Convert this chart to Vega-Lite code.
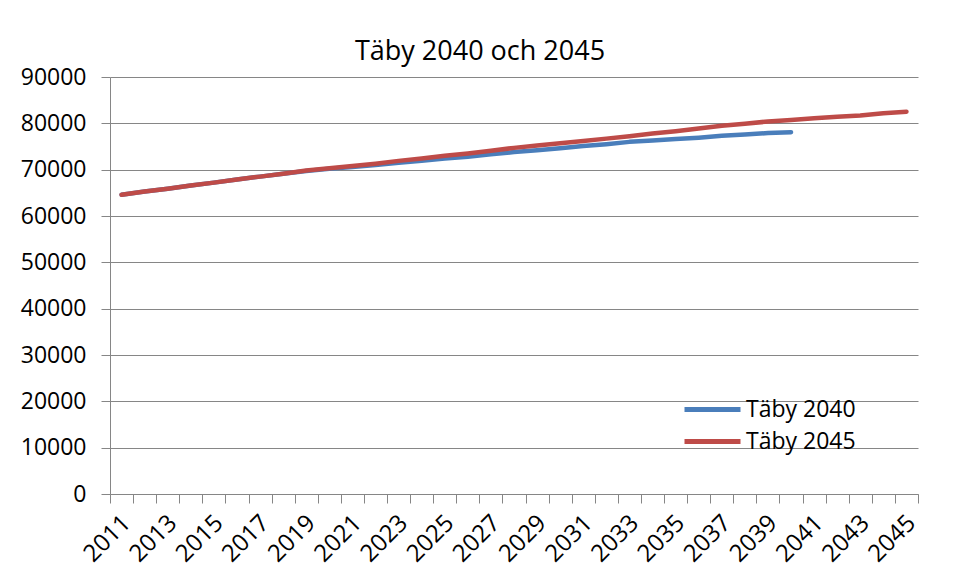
{
  "$schema": "https://vega.github.io/schema/vega-lite/v6.json",
  "autosize": {"type": "none"},
  "width": 808,
  "height": 417,
  "padding": {"left": 110, "top": 77, "right": 39, "bottom": 86},
  "background": "white",
  "title": {
    "text": "Täby 2040 och 2045",
    "font": "Open Sans",
    "fontSize": 27,
    "fontWeight": "normal",
    "color": "#000000",
    "anchor": "middle",
    "baseline": "alphabetic",
    "offset": 17,
    "dx": -34,
    "dy": 38
  },
  "data": {
    "values": [
      {"year": 2011, "series": "Täby 2040", "value": 64600},
      {"year": 2012, "series": "Täby 2040", "value": 65300},
      {"year": 2013, "series": "Täby 2040", "value": 65900},
      {"year": 2014, "series": "Täby 2040", "value": 66600},
      {"year": 2015, "series": "Täby 2040", "value": 67200},
      {"year": 2016, "series": "Täby 2040", "value": 67900},
      {"year": 2017, "series": "Täby 2040", "value": 68500},
      {"year": 2018, "series": "Täby 2040", "value": 69100},
      {"year": 2019, "series": "Täby 2040", "value": 69700},
      {"year": 2020, "series": "Täby 2040", "value": 70200},
      {"year": 2021, "series": "Täby 2040", "value": 70600},
      {"year": 2022, "series": "Täby 2040", "value": 71000},
      {"year": 2023, "series": "Täby 2040", "value": 71500},
      {"year": 2024, "series": "Täby 2040", "value": 71900},
      {"year": 2025, "series": "Täby 2040", "value": 72400},
      {"year": 2026, "series": "Täby 2040", "value": 72800},
      {"year": 2027, "series": "Täby 2040", "value": 73300},
      {"year": 2028, "series": "Täby 2040", "value": 73800},
      {"year": 2029, "series": "Täby 2040", "value": 74200},
      {"year": 2030, "series": "Täby 2040", "value": 74600},
      {"year": 2031, "series": "Täby 2040", "value": 75100},
      {"year": 2032, "series": "Täby 2040", "value": 75500},
      {"year": 2033, "series": "Täby 2040", "value": 76000},
      {"year": 2034, "series": "Täby 2040", "value": 76300},
      {"year": 2035, "series": "Täby 2040", "value": 76600},
      {"year": 2036, "series": "Täby 2040", "value": 76900},
      {"year": 2037, "series": "Täby 2040", "value": 77300},
      {"year": 2038, "series": "Täby 2040", "value": 77600},
      {"year": 2039, "series": "Täby 2040", "value": 77900},
      {"year": 2040, "series": "Täby 2040", "value": 78100},
      {"year": 2011, "series": "Täby 2045", "value": 64600},
      {"year": 2012, "series": "Täby 2045", "value": 65300},
      {"year": 2013, "series": "Täby 2045", "value": 65900},
      {"year": 2014, "series": "Täby 2045", "value": 66600},
      {"year": 2015, "series": "Täby 2045", "value": 67200},
      {"year": 2016, "series": "Täby 2045", "value": 67900},
      {"year": 2017, "series": "Täby 2045", "value": 68500},
      {"year": 2018, "series": "Täby 2045", "value": 69100},
      {"year": 2019, "series": "Täby 2045", "value": 69800},
      {"year": 2020, "series": "Täby 2045", "value": 70300},
      {"year": 2021, "series": "Täby 2045", "value": 70800},
      {"year": 2022, "series": "Täby 2045", "value": 71300},
      {"year": 2023, "series": "Täby 2045", "value": 71900},
      {"year": 2024, "series": "Täby 2045", "value": 72400},
      {"year": 2025, "series": "Täby 2045", "value": 73000},
      {"year": 2026, "series": "Täby 2045", "value": 73500},
      {"year": 2027, "series": "Täby 2045", "value": 74100},
      {"year": 2028, "series": "Täby 2045", "value": 74700},
      {"year": 2029, "series": "Täby 2045", "value": 75200},
      {"year": 2030, "series": "Täby 2045", "value": 75700},
      {"year": 2031, "series": "Täby 2045", "value": 76200},
      {"year": 2032, "series": "Täby 2045", "value": 76700},
      {"year": 2033, "series": "Täby 2045", "value": 77200},
      {"year": 2034, "series": "Täby 2045", "value": 77800},
      {"year": 2035, "series": "Täby 2045", "value": 78300},
      {"year": 2036, "series": "Täby 2045", "value": 78900},
      {"year": 2037, "series": "Täby 2045", "value": 79500},
      {"year": 2038, "series": "Täby 2045", "value": 79900},
      {"year": 2039, "series": "Täby 2045", "value": 80400},
      {"year": 2040, "series": "Täby 2045", "value": 80700},
      {"year": 2041, "series": "Täby 2045", "value": 81100},
      {"year": 2042, "series": "Täby 2045", "value": 81400},
      {"year": 2043, "series": "Täby 2045", "value": 81700},
      {"year": 2044, "series": "Täby 2045", "value": 82200},
      {"year": 2045, "series": "Täby 2045", "value": 82500}
    ]
  },
  "mark": {"type": "line", "strokeWidth": 4.5, "strokeCap": "round", "strokeJoin": "round"},
  "encoding": {
    "x": {
      "field": "year",
      "type": "ordinal",
      "scale": {"paddingInner": 0, "paddingOuter": 0},
      "axis": {
        "title": null,
        "labelAngle": -45,
        "labelAlign": "right",
        "labelBaseline": "middle",
        "labelFont": "Open Sans",
        "labelFontSize": 24,
        "labelColor": "#000000",
        "labelPadding": 16,
        "labelOffset": 5,
        "labelExpr": "datum.value % 2 == 1 ? datum.label : ''",
        "labelOverlap": false,
        "tickBand": "extent",
        "tickSize": 9,
        "tickColor": "#868686",
        "domainColor": "#868686",
        "grid": false
      }
    },
    "y": {
      "field": "value",
      "type": "quantitative",
      "scale": {"domain": [0, 90000], "nice": false},
      "axis": {
        "title": null,
        "values": [0, 10000, 20000, 30000, 40000, 50000, 60000, 70000, 80000, 90000],
        "format": "d",
        "labelFont": "Open Sans",
        "labelFontSize": 23,
        "labelColor": "#000000",
        "labelPadding": 15,
        "tickSize": 9,
        "tickColor": "#868686",
        "domainColor": "#868686",
        "gridColor": "#868686",
        "gridWidth": 1
      }
    },
    "color": {
      "field": "series",
      "type": "nominal",
      "scale": {"domain": ["Täby 2040", "Täby 2045"], "range": ["#4A7EBB", "#BE4B48"]},
      "legend": {
        "title": null,
        "orient": "none",
        "legendX": 586,
        "legendY": 316,
        "padding": 0,
        "symbolType": "M-2,0H2",
        "symbolSize": 784,
        "symbolStrokeWidth": 5,
        "rowPadding": 3,
        "labelOffset": 17,
        "labelFont": "Open Sans",
        "labelFontSize": 23,
        "labelColor": "#000000"
      }
    }
  },
  "config": {
    "view": {"stroke": null}
  }
}
